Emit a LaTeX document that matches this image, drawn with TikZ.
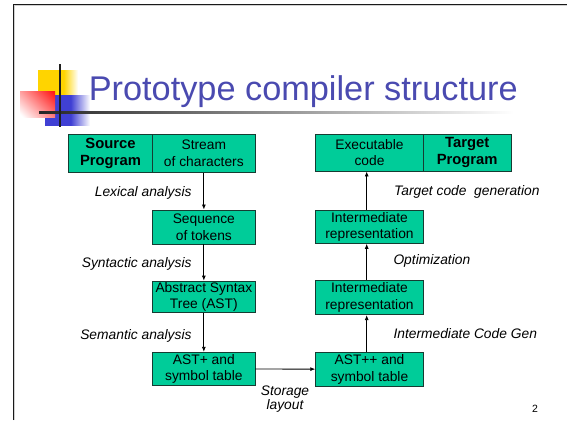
\documentclass[tikz,border=0pt]{standalone}
\usepackage{fontspec}
\setmainfont{Liberation Sans}
\usetikzlibrary{arrows.meta}
\definecolor{boxfill}{HTML}{00CC99}
\definecolor{boxline}{HTML}{163C32}
\definecolor{titleblue}{HTML}{4A4AB0}
\definecolor{decoyellow}{HTML}{FFD400}
\definecolor{decoblue}{HTML}{4040D4}
\definecolor{decored}{HTML}{FF1A1A}
\pgfdeclareverticalshading{redfade}{100bp}{color(0bp)=(white); color(18bp)=(white); color(82bp)=(decored); color(100bp)=(decored)}
\tikzset{
  stage/.style={draw=boxline, line width=0.9pt, fill=boxfill, inner sep=0pt, align=center,
    font=\fontsize{13.8}{16.5}\selectfont},
  stagebold/.style={stage, font=\fontsize{14.8}{17.5}\selectfont\bfseries},
  flow/.style={-{Latex[length=5pt,width=4pt]}, line width=0.8pt},
  phase/.style={font=\fontsize{13.8}{14}\selectfont\itshape, inner sep=0pt},
  framerule/.style={line width=1.1pt, black!90},
  frameshadow/.style={line width=1pt, black!18},
}
\begin{document}
\begin{tikzpicture}[x=1pt,y=-1pt]
\useasboundingbox (0,0) rectangle (567,420);
% slide frame
\draw[frameshadow] (14.8,420) -- (14.8,5.8) -- (567,5.8);
\draw[framerule] (13.3,420) -- (13.3,4.3) -- (567,4.3);
% title decoration
\fill[decoyellow] (38.3,70) rectangle (64,95);
\shade[left color=decoyellow, right color=white] (63.8,70) rectangle (78,95);
\fill[decoblue] (45,95) rectangle (71,125.7);
\shade[left color=decoblue, right color=white] (70.8,95) rectangle (90,125.7);
\begin{scope}[y=1pt]
\shade[shading=redfade, shading angle=-45] (20,-117.3) rectangle (55,-91);
\end{scope}
\shade[left color=black!85, right color=white] (39,111.8) rectangle (514,113.8);
\fill[black!88] (59,64) rectangle (61.2,126.7);
% title
\node[anchor=base west, inner sep=0pt, text=titleblue, font=\fontsize{34.3}{40}\selectfont] (title) at (88.6,100) {Prototype compiler structure};
% left column
\node[stagebold, minimum width=84.4pt, minimum height=38.3pt] (src) at (110.5,153.2) {Source\\Program};
\node[stage, minimum width=102.3pt, minimum height=38.3pt] (stream) at (203.85,153.2) {Stream\\of characters};
\node[stage, minimum width=102.3pt, minimum height=34pt] (seq) at (203.85,227) {Sequence\\of tokens};
\node[stage, minimum width=102.3pt, minimum height=31.3pt] (ast) at (203.85,296.7) {Abstract Syntax\\Tree (AST)};
\node[stage, minimum width=102.3pt, minimum height=33.4pt] (astp) at (203.85,369) {AST+ and\\symbol table};
% right column
\node[stage, minimum width=107.6pt, minimum height=37pt] (exec) at (369.5,152.5) {Executable\\code};
\node[stagebold, minimum width=87.7pt, minimum height=37pt] (tgt) at (467.2,152.5) {Target\\Program};
\node[stage, minimum width=107.6pt, minimum height=33.3pt] (ir1) at (369.5,226.7) {Intermediate\\representation};
\node[stage, minimum width=107.6pt, minimum height=34.7pt] (ir2) at (369.5,297.3) {Intermediate\\representation};
\node[stage, minimum width=107.6pt, minimum height=33.7pt] (astpp) at (369.5,369.2) {AST++ and\\symbol table};
% connectors
\draw[flow] (stream) -- (seq);
\draw[flow] (seq) -- (ast);
\draw[flow] (ast) -- (astp);
\draw[flow] (astp) -- (astpp);
\draw[flow] ([xshift=-2.8pt]astpp.north) -- ([xshift=-2.8pt]ir2.south);
\draw[flow] ([xshift=-2.8pt]ir2.north) -- ([xshift=-2.8pt]ir1.south);
\draw[flow] ([xshift=-2.8pt]ir1.north) -- ([xshift=-2.8pt]exec.south);
% phase labels
\node[phase, anchor=east] (lex) at (191.7,193.3) {Lexical analysis};
\node[phase, anchor=east] (syn) at (191.7,264) {Syntactic analysis};
\node[phase, anchor=east] (sem) at (191.7,335.7) {Semantic analysis};
\node[phase, align=center, font=\fontsize{13.8}{14}\selectfont\itshape] (stor) at (285,398.7) {Storage\\layout};
\node[phase, anchor=west] (tcg) at (394,192.3) {Target code\ \ generation};
\node[phase, anchor=west] (opt) at (393.3,261) {Optimization};
\node[phase, anchor=west] (icg) at (393.3,333.3) {Intermediate Code Gen};
% page number
\node[inner sep=0pt, font=\fontsize{10.5}{12}\selectfont] (pg) at (535,409) {2};
\end{tikzpicture}
\end{document}
